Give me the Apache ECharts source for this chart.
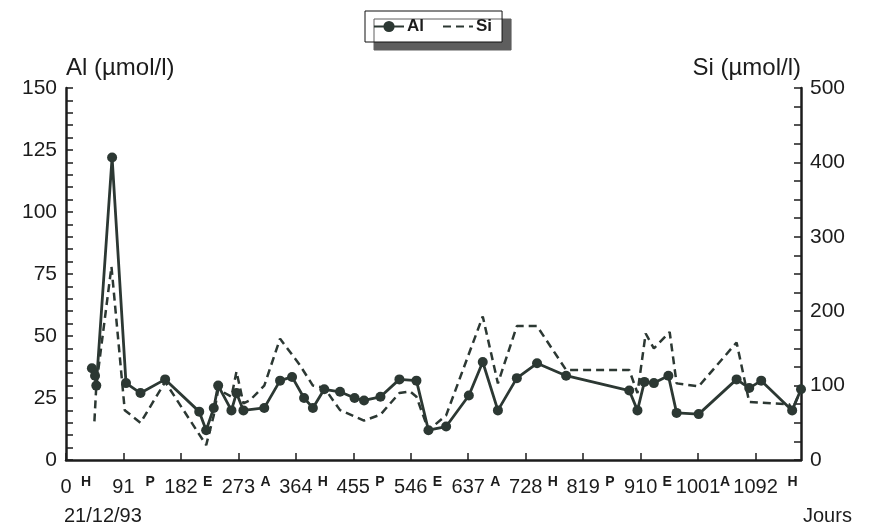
<!DOCTYPE html>
<html>
<head>
<meta charset="utf-8">
<script src="https://cdn.jsdelivr.net/npm/echarts@6/dist/echarts.min.js"></script>
<style>
html,body{margin:0;padding:0;background:#fff;}
#c{width:877px;height:531px;}
</style>
</head>
<body>
<div id="c"></div>
<script>
// ---- data ----
var alDays = [41, 46, 48, 73, 95, 118, 157, 211, 222, 234, 241, 262, 270, 281, 314, 339, 358, 377, 391, 409, 434, 457, 472, 498, 528, 555, 574, 602, 638, 660, 684, 714, 746, 792, 892, 905, 916, 931, 954, 967, 1002, 1062, 1082, 1101, 1150, 1164];
var alValues = [37, 34, 30, 122, 31, 27, 32.5, 19.5, 12, 21, 30, 20, 27, 20, 21, 32, 33.5, 25, 21, 28.5, 27.5, 25, 24, 25.5, 32.5, 32, 12, 13.5, 26, 39.5, 20, 33, 39, 34, 28, 20, 31.5, 31, 34, 19, 18.5, 32.5, 29, 32, 20, 28.5];
var siDays = [45, 48, 72, 93, 118, 157, 222, 234, 241, 262, 270, 281, 291, 314, 339, 370, 391, 409, 434, 472, 498, 528, 545, 555, 574, 602, 660, 684, 714, 746, 792, 892, 905, 918, 931, 956, 967, 1002, 1062, 1082, 1101, 1145, 1150, 1164];
var siValues = [52, 100, 260, 67, 50, 105, 20, 60, 95, 85, 119, 76, 80, 100, 163, 128, 100, 97, 67, 53, 61, 90, 92, 85, 40, 60, 193, 103, 180, 180, 121, 121, 90, 170, 150, 172, 103, 99, 158, 78, 77, 75, 67, 95];
var xTicks = [0, 91, 182, 273, 364, 455, 546, 637, 728, 819, 910, 1001, 1092];
var seasons = ['H', 'P', 'E', 'A', 'H', 'P', 'E', 'A', 'H', 'P', 'E', 'A', 'H'];
var seriesNames = ['Al', 'Si'];
var xMax = 1164;

function pairs(xs, ys) { return xs.map(function (x, i) { return [x, ys[i]]; }); }

var FONT = 'Liberation Sans, Arial, sans-serif';
var INK = '#1c1c1c';
var LINE = '#2c3833';

var chart = echarts.init(document.getElementById('c'), null, {renderer: 'canvas'});
chart.setOption({
  animation: false,
  backgroundColor: '#fff',
  textStyle: {fontFamily: FONT},
  legend: {
    left: 365, top: 11,
    data: [
      {name: seriesNames[0]},
      {name: seriesNames[1], itemStyle: {color: 'rgba(0,0,0,0)', borderWidth: 0}}
    ],
    backgroundColor: '#fff',
    borderColor: '#111', borderWidth: 1,
    shadowColor: '#5e5e5e', shadowBlur: 0, shadowOffsetX: 9, shadowOffsetY: 8,
    padding: [7, 10, 7, 8],
    itemGap: 18, itemWidth: 30, itemHeight: 14,
    textStyle: {fontFamily: FONT, fontSize: 17, fontWeight: 'bold', color: INK, padding: [0, 0, 0, -2]}
  },
  grid: {left: 66, right: 76, top: 88, bottom: 71, containLabel: false, outerBoundsMode: 'none'},
  xAxis: [{
    type: 'value', min: 0, max: xMax, interval: 91,
    axisLine: {lineStyle: {color: INK, width: 2.5}},
    axisTick: {inside: true, length: 7, lineStyle: {color: INK, width: 1.5}},
    splitLine: {show: false},
    axisLabel: {
      showMaxLabel: false, margin: 17,
      fontFamily: FONT, fontSize: 20, color: INK,
      formatter: function (v) { return xTicks.indexOf(v) >= 0 ? String(v) : ''; }
    }
  }, {
    type: 'value', min: 0, max: xMax, interval: 91, position: 'bottom',
    axisLine: {show: false}, axisTick: {show: false}, splitLine: {show: false},
    axisLabel: {
      showMaxLabel: false, margin: 15, align: 'left',
      fontFamily: FONT, fontSize: 14, fontWeight: 'bold', color: INK,
      formatter: function (v) {
        var i = Math.round(v / 91);
        var s = seasons[i] || '';
        if (i === 0) return '{f|' + s + '}';
        if (i === seasons.length - 1) return '{l|' + s + '}';
        return '{m|' + s + '}';
      },
      rich: {
        f: {padding: [0, 0, 0, 15], fontFamily: FONT, fontSize: 14, fontWeight: 'bold', color: INK},
        m: {padding: [0, 0, 0, 22], fontFamily: FONT, fontSize: 14, fontWeight: 'bold', color: INK},
        l: {padding: [0, 0, 0, 32], fontFamily: FONT, fontSize: 14, fontWeight: 'bold', color: INK}
      }
    }
  }],
  yAxis: [{
    type: 'value', min: 0, max: 150, interval: 25,
    name: 'Al (µmol/l)', nameLocation: 'end', nameGap: 8,
    nameTextStyle: {align: 'left', fontFamily: FONT, fontSize: 24, color: INK},
    axisLine: {show: true, onZero: false, lineStyle: {color: INK, width: 2.5}},
    axisTick: {inside: true, length: 7, lineStyle: {color: INK, width: 1.5}},
    minorTick: {show: true, splitNumber: 5, length: 7, lineStyle: {color: INK, width: 1.5}},
    splitLine: {show: false},
    axisLabel: {margin: 9, fontFamily: FONT, fontSize: 21, color: INK}
  }, {
    type: 'value', min: 0, max: 500, interval: 100, position: 'right',
    name: 'Si (µmol/l)', nameLocation: 'end', nameGap: 8,
    nameTextStyle: {align: 'right', fontFamily: FONT, fontSize: 24, color: INK},
    axisLine: {show: true, onZero: false, lineStyle: {color: INK, width: 2.5}},
    axisTick: {inside: true, length: 7, lineStyle: {color: INK, width: 1.5}},
    minorTick: {show: true, splitNumber: 4, length: 7, lineStyle: {color: INK, width: 1.5}},
    splitLine: {show: false},
    axisLabel: {margin: 9, fontFamily: FONT, fontSize: 21, color: INK}
  }],
  series: [{
    name: seriesNames[0], type: 'line', xAxisIndex: 0, yAxisIndex: 0,
    data: pairs(alDays, alValues),
    symbol: 'circle', symbolSize: 10, showSymbol: true,
    lineStyle: {color: LINE, width: 2.8},
    itemStyle: {color: LINE},
    z: 3
  }, {
    name: seriesNames[1], type: 'line', xAxisIndex: 0, yAxisIndex: 1,
    data: pairs(siDays, siValues),
    symbol: 'none', showSymbol: false,
    lineStyle: {color: LINE, width: 2.5, type: [8, 5]},
    itemStyle: {color: LINE},
    z: 2
  }],
  graphic: [
    {type: 'text', left: 64, top: 506, style: {text: '21/12/93', font: '20px ' + FONT, fill: INK}},
    {type: 'text', left: 803, top: 506, style: {text: 'Jours', font: '20px ' + FONT, fill: INK}}
  ]
});
</script>
</body>
</html>
